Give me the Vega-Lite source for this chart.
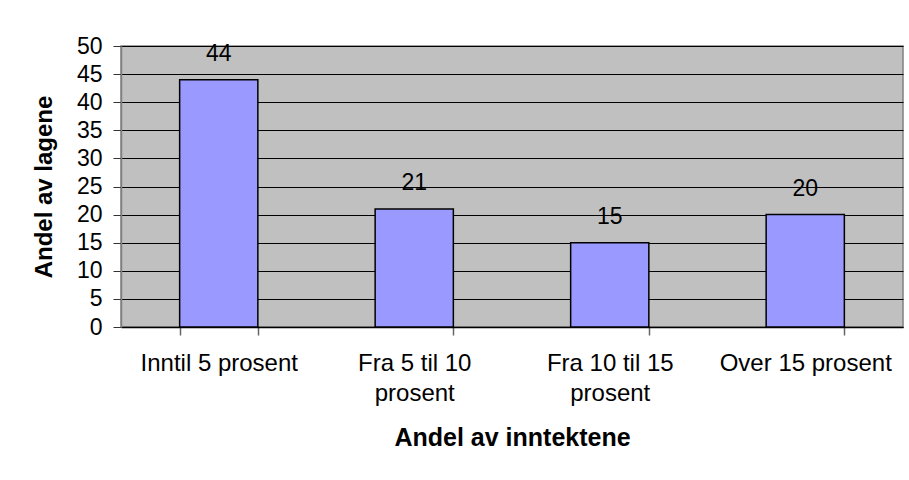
{
  "$schema": "https://vega.github.io/schema/vega-lite/v6.json",
  "autosize": "none",
  "width": 782,
  "height": 281,
  "padding": {"left": 121, "top": 46, "right": 6, "bottom": 153},
  "background": "white",
  "data": {
    "values": [
      {"kategori": "Inntil 5 prosent", "andel": 44},
      {"kategori": "Fra 5 til 10 prosent", "andel": 21},
      {"kategori": "Fra 10 til 15 prosent", "andel": 15},
      {"kategori": "Over 15 prosent", "andel": 20}
    ]
  },
  "config": {
    "font": "Liberation Sans",
    "view": {"fill": "#C0C0C0", "stroke": "#808080", "strokeWidth": 1.5}
  },
  "encoding": {
    "x": {
      "field": "kategori",
      "type": "nominal",
      "sort": null,
      "scale": {"paddingInner": 0.6, "paddingOuter": 0.3},
      "axis": {
        "title": "Andel av inntektene",
        "titleFontSize": 25,
        "titleFontWeight": "bold",
        "titleColor": "black",
        "titlePadding": 20,
        "labelAngle": 0,
        "labelFontSize": 24,
        "labelColor": "black",
        "labelPadding": 16,
        "labelLineHeight": 30,
        "labelExpr": "datum.value == 'Fra 5 til 10 prosent' ? ['Fra 5 til 10', 'prosent'] : datum.value == 'Fra 10 til 15 prosent' ? ['Fra 10 til 15', 'prosent'] : datum.value",
        "tickBand": "extent",
        "tickSize": 8,
        "tickColor": "#666666",
        "tickWidth": 1.5,
        "domainColor": "black",
        "domainWidth": 1.5,
        "grid": false
      }
    },
    "y": {
      "field": "andel",
      "type": "quantitative",
      "scale": {"domain": [0, 50], "nice": false},
      "axis": {
        "title": "Andel av lagene",
        "titleFontSize": 24,
        "titleFontWeight": "bold",
        "titleColor": "black",
        "titlePadding": 20,
        "values": [0, 5, 10, 15, 20, 25, 30, 35, 40, 45, 50],
        "labelFontSize": 23,
        "labelColor": "black",
        "labelPadding": 11,
        "tickSize": 8,
        "tickColor": "#333333",
        "domainColor": "#808080",
        "domainWidth": 1.5,
        "grid": true,
        "gridColor": "black",
        "gridWidth": 1,
        "gridOpacity": 1
      }
    }
  },
  "layer": [
    {
      "mark": {"type": "bar", "fill": "#9999FF", "stroke": "black", "strokeWidth": 1.5}
    },
    {
      "mark": {"type": "text", "baseline": "alphabetic", "dy": -19, "fontSize": 23, "color": "black"},
      "encoding": {"text": {"field": "andel", "type": "quantitative"}}
    }
  ]
}
